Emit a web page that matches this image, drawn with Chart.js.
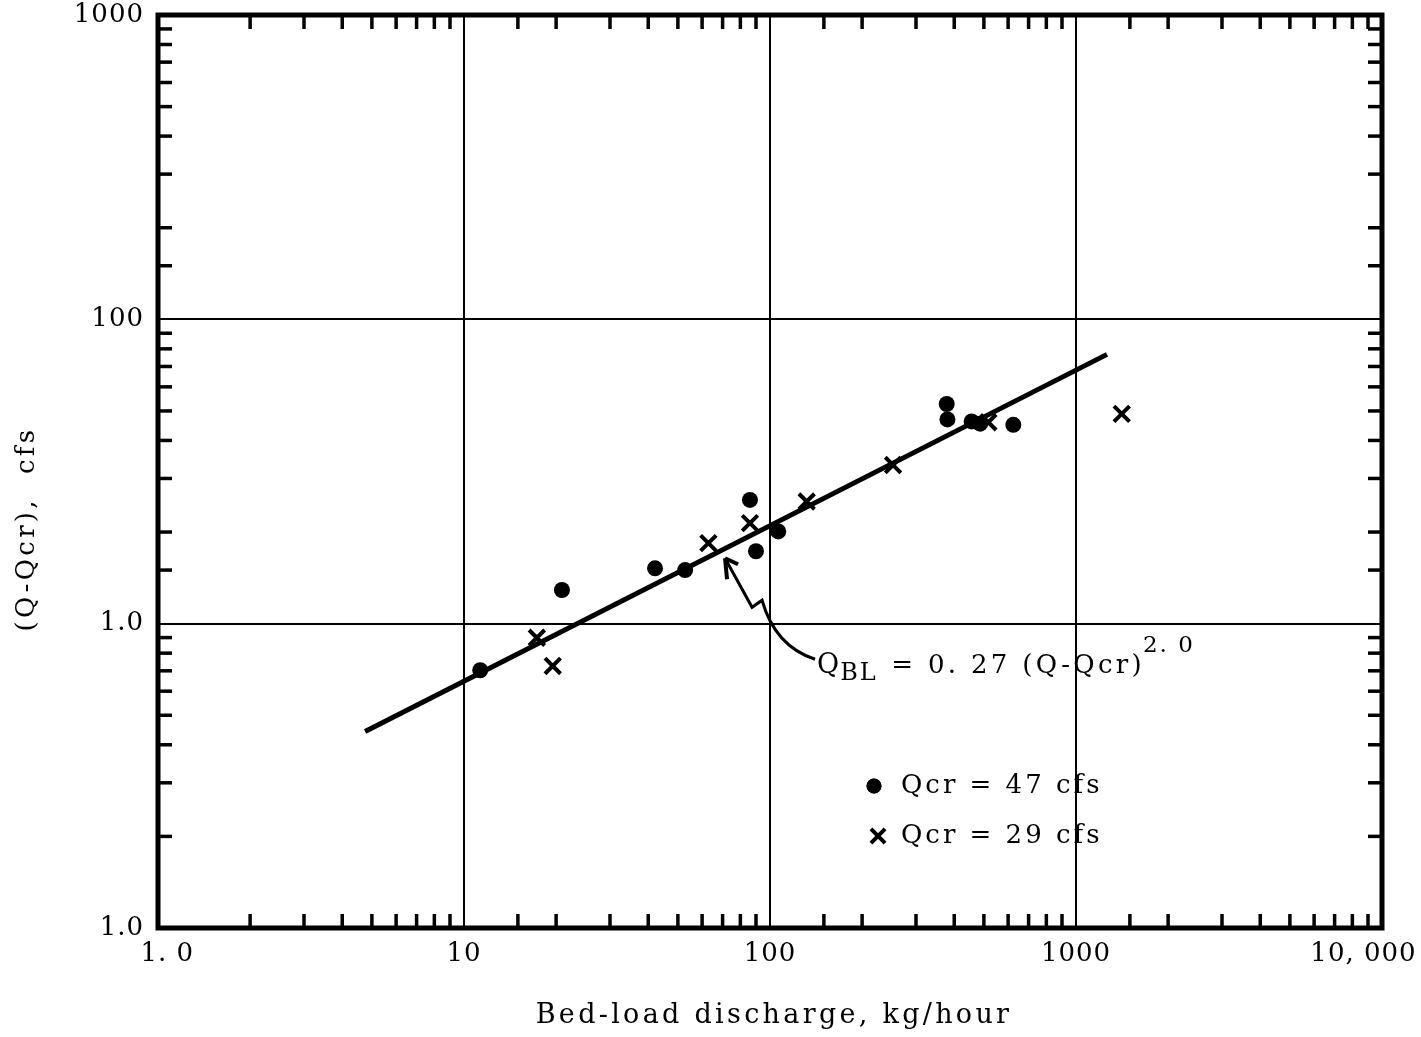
<!DOCTYPE html>
<html>
<head>
<meta charset="utf-8">
<script src="https://cdn.jsdelivr.net/npm/chart.js@4.4.0/dist/chart.umd.min.js"></script>
<style>
    html, body { margin: 0; padding: 0; background: #fff; }
    #bedLoadChart { display: block; }
</style>
</head>
<body>
<canvas id="bedLoadChart" width="1421" height="1037"></canvas>
<script>
// values (bed-load in kg/hour, Q-Qcr in cfs)
const dotsBedLoad = [11.3, 20.9, 42.1, 52.8, 86.0, 90.0, 106.4, 378, 380, 456, 486, 624];
const dotsDischarge = [7.03, 12.9, 15.2, 15.0, 25.5, 17.3, 20.1, 52.7, 46.9, 46.2, 45.4, 45.0];
const crossBedLoad = [17.3, 19.5, 62.9, 86.0, 131.8, 252.4, 517, 1411];
const crossDischarge = [8.99, 7.26, 18.4, 21.4, 25.2, 33.2, 45.9, 48.9];
const fitBedLoad = [4.75, 1263];
const fitDischarge = [4.42, 76.7];

const xTickValues = [1, 10, 100, 1000, 10000];
const xTickLabels = ['1. 0', '10', '100', '1000', '10, 000'];
const yTickValues = [1, 10, 100, 1000];
const yTickLabels = ['1.0', '1.0', '100', '1000'];

const xTitle = 'Bed-load discharge, kg/hour';
const yTitle = '(Q-Qcr),  cfs';
const legendLabels = ['Qcr = 47 cfs', 'Qcr = 29 cfs'];
const arrowTip = { x: 71.3, y: 16.4 };

const FONT = '"DejaVu Serif", "Liberation Serif", serif';

function isDecade(v) {
    const l = Math.log10(v);
    return Math.abs(l - Math.round(l)) < 1e-9;
}

function labelFor(value, values, labels) {
    const i = values.findIndex(v => Math.abs(v - value) < 1e-9 * v);
    return i < 0 ? '' : labels[i];
}

function toPoints(xs, ys) {
    return xs.map((x, i) => ({ x: x, y: ys[i] }));
}

function line(ctx, x1, y1, x2, y2) {
    ctx.beginPath();
    ctx.moveTo(x1, y1);
    ctx.lineTo(x2, y2);
    ctx.stroke();
}

function spacedText(ctx, text, x, y, size, spacing) {
    ctx.font = size + 'px ' + FONT;
    ctx.letterSpacing = spacing + 'px';
    ctx.fillText(text, x, y);
    return ctx.measureText(text).width;
}

const paperPlugin = {
    id: 'paperPlugin',
    beforeUpdate(chart) {
        chart.ctx.letterSpacing = '1px';
    },
    beforeDraw(chart) {
        const ctx = chart.ctx;
        ctx.save();
        ctx.fillStyle = '#fff';
        ctx.fillRect(0, 0, chart.width, chart.height);
        ctx.restore();
        ctx.letterSpacing = '1px';
    },
    afterDraw(chart) {
        const { ctx, chartArea: a, scales: { x, y } } = chart;
        ctx.save();
        ctx.strokeStyle = '#000';
        ctx.fillStyle = '#000';
        ctx.lineCap = 'butt';

        // inward minor ticks on all four sides
        const len = 14;
        ctx.lineWidth = 3.5;
        x.ticks.forEach(t => {
            if (isDecade(t.value)) return;
            const px = x.getPixelForValue(t.value);
            line(ctx, px, a.bottom, px, a.bottom - len);
            line(ctx, px, a.top, px, a.top + len);
        });
        y.ticks.forEach(t => {
            if (isDecade(t.value)) return;
            const py = y.getPixelForValue(t.value);
            line(ctx, a.left, py, a.left + len, py);
            line(ctx, a.right, py, a.right - len, py);
        });

        // heavy frame
        ctx.lineWidth = 5;
        ctx.strokeRect(a.left, a.top, a.width, a.height);

        // axis titles
        ctx.textBaseline = 'middle';
        ctx.textAlign = 'center';
        spacedText(ctx, xTitle, (a.left + a.right) / 2 + 4, 1016, 27, 3.3);
        ctx.save();
        ctx.translate(27, 529);
        ctx.rotate(-Math.PI / 2);
        spacedText(ctx, yTitle, 0, 0, 26, 3.3);
        ctx.restore();

        // legend
        const lx = a.left + 716;
        const ly = [786, 836];
        Chart.helpers.drawPoint(ctx, { pointStyle: 'circle', radius: 7.5, borderWidth: 0 }, lx, ly[0]);
        ctx.fill();
        ctx.lineWidth = 4;
        Chart.helpers.drawPoint(ctx, { pointStyle: 'crossRot', radius: 10, borderWidth: 4 }, lx + 4, ly[1]);
        ctx.textAlign = 'left';
        legendLabels.forEach((label, i) => {
            spacedText(ctx, label, lx + 27, ly[i], 26, 3);
        });

        // equation with arrow to the fitted line
        const tx = x.getPixelForValue(arrowTip.x);
        const ty = y.getPixelForValue(arrowTip.y);
        ctx.lineWidth = 3;
        ctx.beginPath();
        ctx.moveTo(tx + 90, ty + 101);
        ctx.quadraticCurveTo(tx + 50, ty + 88, tx + 37, ty + 42);
        ctx.lineTo(tx + 27, ty + 49);
        ctx.lineTo(tx, ty);
        ctx.stroke();
        ctx.lineWidth = 4;
        line(ctx, tx, ty, tx + 2, ty + 21);
        line(ctx, tx, ty, tx + 13, ty + 6);

        ctx.textBaseline = 'alphabetic';
        let cx = tx + 92;
        const base = ty + 115;
        cx += spacedText(ctx, 'Q', cx, base, 27, 1);
        cx += spacedText(ctx, 'BL', cx, base + 7, 24, 2);
        cx += spacedText(ctx, ' = 0. 27 (Q-Qcr)', cx + 2, base, 26, 3.3);
        spacedText(ctx, '2. 0', cx, base - 21, 23, 2);

        ctx.restore();
    }
};

const ctx = document.getElementById('bedLoadChart');

new Chart(ctx, {
    type: 'scatter',
    data: {
        datasets: [
            {
                type: 'line',
                label: 'fit',
                data: toPoints(fitBedLoad, fitDischarge),
                borderColor: '#000',
                borderWidth: 5,
                pointRadius: 0,
                fill: false
            },
            {
                label: 'Qcr = 47 cfs',
                data: toPoints(dotsBedLoad, dotsDischarge),
                pointStyle: 'circle',
                pointRadius: 8,
                backgroundColor: '#000',
                borderColor: '#000',
                borderWidth: 0
            },
            {
                label: 'Qcr = 29 cfs',
                data: toPoints(crossBedLoad, crossDischarge),
                pointStyle: 'crossRot',
                pointRadius: 11,
                borderColor: '#000',
                borderWidth: 4
            }
        ]
    },
    options: {
        responsive: false,
        animation: false,
        events: [],
        layout: { padding: { top: 11, right: 39, left: 0, bottom: 0 } },
        plugins: {
            legend: { display: false },
            tooltip: { enabled: false }
        },
        scales: {
            x: {
                type: 'logarithmic',
                min: 1,
                max: 10000,
                border: { display: false },
                grid: {
                    color: c => isDecade(c.tick.value) ? '#000' : 'rgba(0,0,0,0)',
                    lineWidth: 2,
                    drawTicks: false
                },
                ticks: {
                    autoSkip: false,
                    maxRotation: 0,
                    minRotation: 0,
                    padding: 11,
                    color: '#000',
                    font: { family: FONT, size: 26 },
                    callback: (value) => {
                        let s = labelFor(value, xTickValues, xTickLabels);
                        if (value === 1) s = '  ' + s;
                        if (value === 10000) s = s + '    ';
                        return s;
                    }
                },
                afterFit: (scale) => {
                    scale.height = 109;
                    scale.paddingLeft = 0;
                    scale.paddingRight = 0;
                }
            },
            y: {
                type: 'logarithmic',
                min: 1,
                max: 1000,
                border: { display: false },
                grid: {
                    color: c => isDecade(c.tick.value) ? '#000' : 'rgba(0,0,0,0)',
                    lineWidth: 2,
                    drawTicks: false
                },
                ticks: {
                    autoSkip: false,
                    padding: 14,
                    color: '#000',
                    font: { family: FONT, size: 26 },
                    callback: (value) => labelFor(value, yTickValues, yTickLabels)
                },
                afterFit: (scale) => {
                    scale.width = 158;
                    scale.paddingTop = 0;
                    scale.paddingBottom = 0;
                }
            }
        }
    },
    plugins: [paperPlugin]
});
</script>
</body>
</html>
